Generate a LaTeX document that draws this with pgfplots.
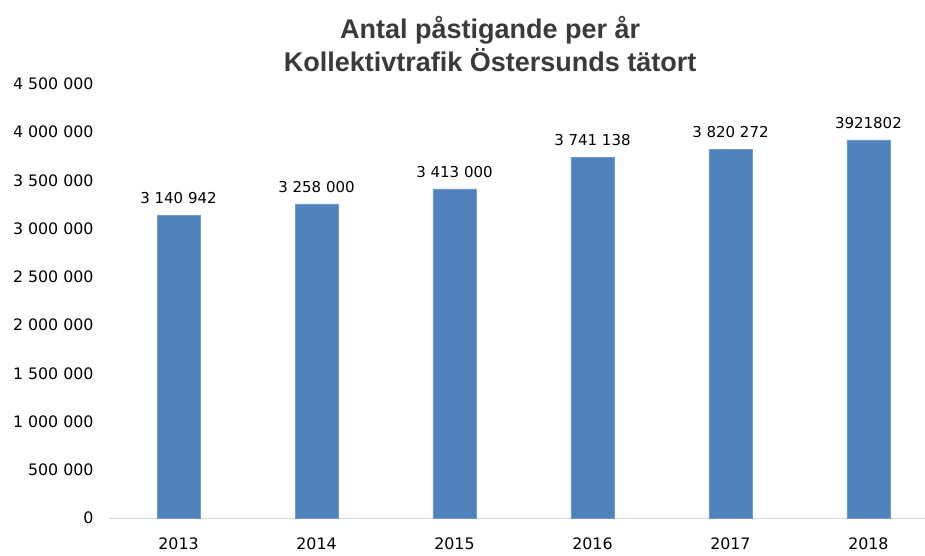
\documentclass[border=0pt]{standalone}
\usepackage{pgfplots}
\pgfplotsset{compat=1.18}
\usepackage{pgfplotstable}
\usepackage{fontspec}
\setmainfont{DejaVu Sans}
\newfontfamily\titlefont{Liberation Sans}
\definecolor{barblue}{HTML}{4F81BD}
\definecolor{axgray}{HTML}{D9D9D9}
\definecolor{titlegray}{HTML}{3A3A3A}
\pgfplotstableread[col sep=comma,row sep=\\]{
x,y,lab\\
0,3140942,3 140 942\\
1,3258000,3 258 000\\
2,3413000,3 413 000\\
3,3741138,3 741 138\\
4,3820272,3 820 272\\
5,3921802,3921802\\
}\data
\begin{document}
\begin{tikzpicture}
\useasboundingbox (-109bp,-38bp) rectangle (816bp,518bp);
\begin{axis}[
  scale only axis, width=816bp, height=434bp,
  xmin=-0.504, xmax=5.41, ymin=0, ymax=4500000,
  axis x line=bottom, axis y line=left,
  x axis line style={-, draw=axgray, line width=1bp},
  y axis line style={draw=none},
  major tick length=0pt,
  xtick={0,1,2,3,4,5},
  xticklabels={2013,2014,2015,2016,2017,2018},
  ytick={0,500000,...,4500000},
  scaled y ticks=false,
  /pgf/number format/fixed,
  /pgf/number format/1000 sep={\ },
  /pgf/number format/assume math mode=true,
  yticklabel style={font=\fontsize{15.8bp}{18bp}\selectfont, anchor=east, xshift=-12bp},
  xticklabel style={font=\fontsize{15.8bp}{18bp}\selectfont, yshift=-16bp},
  ybar, bar width=43bp,
  nodes near coords,
  point meta=explicit symbolic,
  nodes near coords style={font=\fontsize{15bp}{18bp}\selectfont, yshift=8bp},
  clip=false,
]
\addplot[fill=barblue, draw=barblue!80!white] table[x=x, y=y, meta=lab] {\data};
\node[font=\titlefont\bfseries\fontsize{27bp}{33bp}\selectfont, text=titlegray, align=center]
  at ([yshift=40bp]rel axis cs:0.467,1) {Antal påstigande per år\\Kollektivtrafik Östersunds tätort};
\end{axis}
\end{tikzpicture}
\end{document}
